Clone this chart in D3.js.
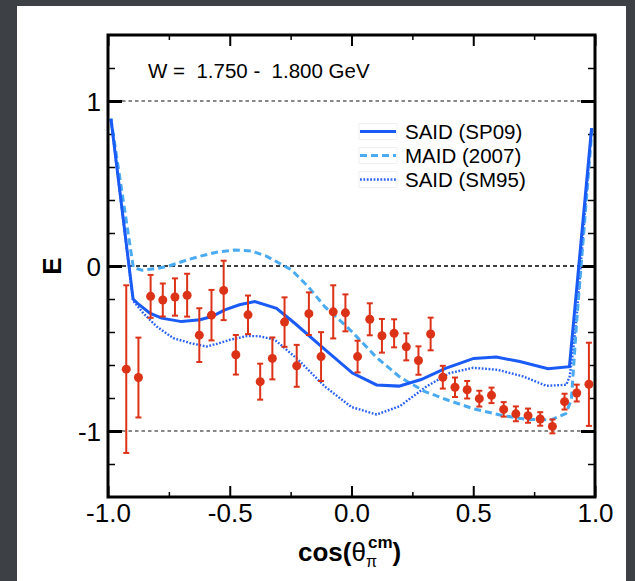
<!DOCTYPE html>
<html lang="en">
<head>
<meta charset="UTF-8">
<title>E vs cos theta</title>
<script src="https://d3js.org/d3.v7.min.js"></script>
<style>
  body { margin:0; background:#3d4044; }
  text { font-family:"Liberation Sans", Arial, Helvetica, sans-serif; }
  .axis path { display:none; }
  .axis line { stroke:#000; }
  .axis text { font-size:26px; fill:#000; }
</style>
</head>
<body>
<script>
// measured points (cos theta bins, E, error)
var cosBins = [-0.925,-0.875,-0.825,-0.775,-0.725,-0.675,-0.625,-0.575,-0.525,-0.475,
               -0.425,-0.375,-0.325,-0.275,-0.225,-0.175,-0.125,-0.075,-0.025,0.025,
               0.075,0.125,0.175,0.225,0.275,0.325,0.375,0.425,0.475,0.525,
               0.575,0.625,0.675,0.725,0.775,0.825,0.875,0.925,0.975];
var eValues = [-0.625,-0.676,-0.184,-0.206,-0.188,-0.177,-0.419,-0.298,-0.148,-0.538,
               -0.296,-0.701,-0.560,-0.340,-0.605,-0.289,-0.549,-0.278,-0.284,-0.549,
               -0.323,-0.423,-0.408,-0.490,-0.573,-0.412,-0.674,-0.735,-0.750,-0.804,
               -0.784,-0.869,-0.896,-0.907,-0.927,-0.972,-0.822,-0.770,-0.717];
var eErrors = [0.508,0.242,0.130,0.100,0.113,0.130,0.163,0.153,0.180,0.120,
               0.117,0.109,0.127,0.150,0.127,0.129,0.148,0.161,0.112,0.096,
               0.097,0.102,0.085,0.082,0.086,0.099,0.069,0.059,0.053,0.048,
               0.047,0.044,0.045,0.043,0.041,0.042,0.048,0.051,0.252];

// model curves: [cos, E]
var said09 = [[-0.988,0.893],[-0.897,-0.200],[-0.880,-0.225],[-0.828,-0.286],[-0.780,-0.316],
              [-0.698,-0.337],[-0.622,-0.326],[-0.574,-0.306],[-0.520,-0.266],[-0.460,-0.235],
              [-0.397,-0.216],[-0.308,-0.256],[-0.233,-0.347],[-0.123,-0.488],[0.004,-0.649],
              [0.103,-0.721],[0.195,-0.728],[0.286,-0.688],[0.386,-0.620],[0.502,-0.560],
              [0.595,-0.552],[0.691,-0.579],[0.807,-0.623],[0.895,-0.610],[0.986,0.835]];
var maid07 = [[-0.988,0.893],[-0.896,-0.010],[-0.860,-0.025],[-0.800,-0.015],[-0.750,0.000],
              [-0.677,0.036],[-0.612,0.063],[-0.550,0.085],[-0.480,0.097],[-0.410,0.090],
              [-0.350,0.060],[-0.300,0.020],[-0.246,-0.024],[-0.178,-0.125],[-0.110,-0.246],
              [-0.040,-0.340],[0.003,-0.400],[0.100,-0.550],[0.200,-0.675],[0.300,-0.760],
              [0.400,-0.815],[0.500,-0.865],[0.620,-0.906],[0.720,-0.930],[0.820,-0.932],
              [0.880,-0.895],[0.903,-0.810],[0.916,-0.528],[0.925,-0.330],[0.988,0.835]];
var said95 = [[-0.988,0.890],[-0.897,-0.210],[-0.855,-0.286],[-0.800,-0.367],[-0.732,-0.437],
              [-0.663,-0.467],[-0.595,-0.488],[-0.550,-0.470],[-0.499,-0.447],[-0.430,-0.425],
              [-0.380,-0.425],[-0.315,-0.447],[-0.219,-0.568],[-0.110,-0.730],[0.000,-0.855],
              [0.103,-0.900],[0.198,-0.850],[0.308,-0.730],[0.403,-0.649],[0.500,-0.617],
              [0.600,-0.629],[0.704,-0.669],[0.800,-0.726],[0.882,-0.720],[0.896,-0.669],
              [0.909,-0.528],[0.925,-0.300],[0.986,0.835]];

var legendNames = ["SAID (SP09)", "MAID (2007)", "SAID (SM95)"];
var xMajor = [-1, -0.5, 0, 0.5, 1];
var xMinor = [-0.75, -0.25, 0.25, 0.75];
var yMajor = [-1, 0, 1];
var yMinor = [-1.2, -0.8, -0.6, -0.4, -0.2, 0.2, 0.4, 0.6, 0.8, 1.2];

var width = 635, height = 581;
var pLeft = 108, pRight = 595, pTop = 35, pBottom = 497;

var svg = d3.select("body").append("svg")
            .attr("width", width).attr("height", height);

svg.append("rect").attr("width", width).attr("height", height).attr("fill", "#3d4044");
svg.append("rect").attr("x", 17).attr("y", 6).attr("width", 609).attr("height", 580).attr("fill", "#fff");

var x = d3.scaleLinear().domain([-1, 1]).range([pLeft, pRight]);
var y = d3.scaleLinear().domain([-1.4, 1.4]).range([pBottom, pTop]);

// reference lines
svg.selectAll("line.ref").data(yMajor).enter().append("line")
   .attr("x1", pLeft + 14).attr("x2", pRight - 14)
   .attr("y1", function(d){ return y(d); }).attr("y2", function(d){ return y(d); })
   .attr("stroke", function(d){ return d == 0 ? "#000" : "#888"; })
   .attr("stroke-width", function(d){ return d == 0 ? 1.3 : 2; })
   .attr("stroke-dasharray", function(d){ return d == 0 ? "4,3" : "3.5,3"; });

// axes, ticks inward on all sides
var bx = svg.append("g").attr("class", "axis").attr("transform", "translate(0," + pBottom + ")")
            .call(d3.axisBottom(x).tickValues(xMajor).tickSize(-11).tickPadding(7)
                  .tickFormat(function(d){ return d.toFixed(1); }));
bx.selectAll("line").attr("stroke-width", 2);
svg.append("g").attr("class", "axis").attr("transform", "translate(0," + pBottom + ")")
   .call(d3.axisBottom(x).tickValues(xMinor).tickSize(-5).tickFormat(""))
   .selectAll("line").attr("stroke-width", 1.5);
svg.append("g").attr("class", "axis").attr("transform", "translate(0," + pTop + ")")
   .call(d3.axisTop(x).tickValues(xMajor).tickSize(-11).tickFormat(""))
   .selectAll("line").attr("stroke-width", 2);
svg.append("g").attr("class", "axis").attr("transform", "translate(0," + pTop + ")")
   .call(d3.axisTop(x).tickValues(xMinor).tickSize(-5).tickFormat(""))
   .selectAll("line").attr("stroke-width", 1.5);

var ly = svg.append("g").attr("class", "axis").attr("transform", "translate(" + pLeft + ",0)")
            .call(d3.axisLeft(y).tickValues(yMajor).tickSize(-14).tickPadding(7)
                  .tickFormat(function(d){ return String(d); }));
ly.selectAll("line").attr("stroke-width", 3);
ly.selectAll("text").attr("dy", "0.36em");
svg.append("g").attr("class", "axis").attr("transform", "translate(" + pLeft + ",0)")
   .call(d3.axisLeft(y).tickValues(yMinor).tickSize(-7).tickFormat(""))
   .selectAll("line").attr("stroke-width", 1.5);
svg.append("g").attr("class", "axis").attr("transform", "translate(" + pRight + ",0)")
   .call(d3.axisRight(y).tickValues(yMajor).tickSize(-14).tickFormat(""))
   .selectAll("line").attr("stroke-width", 3);
svg.append("g").attr("class", "axis").attr("transform", "translate(" + pRight + ",0)")
   .call(d3.axisRight(y).tickValues(yMinor).tickSize(-7).tickFormat(""))
   .selectAll("line").attr("stroke-width", 1.5);

// curves
var line = d3.line().x(function(d){ return x(d[0]); }).y(function(d){ return y(d[1]); });
var styles = [
  {data: said95, color: "#2a62f2", w: 2.4, dash: "1.8,1.6"},
  {data: maid07, color: "#4aaaf2", w: 3, dash: "7,4"},
  {data: said09, color: "#1a5af5", w: 3, dash: null}
];
styles.forEach(function(s){
  svg.append("path").attr("d", line(s.data)).attr("fill", "none")
     .attr("stroke", s.color).attr("stroke-width", s.w)
     .attr("stroke-dasharray", s.dash);
});

// data points with error bars
var red = "#dc3218";
var pts = svg.append("g");
cosBins.forEach(function(c, i){
  var cx = x(c), lo = y(eValues[i] - eErrors[i]), hi = y(eValues[i] + eErrors[i]);
  pts.append("line").attr("x1", cx).attr("x2", cx).attr("y1", lo).attr("y2", hi)
     .attr("stroke", red).attr("stroke-width", 2);
  [lo, hi].forEach(function(yy){
    pts.append("line").attr("x1", cx - 3).attr("x2", cx + 3).attr("y1", yy).attr("y2", yy)
       .attr("stroke", red).attr("stroke-width", 2);
  });
  pts.append("circle").attr("cx", cx).attr("cy", y(eValues[i])).attr("r", 4.5).attr("fill", red);
});

// frame
svg.append("rect").attr("x", pLeft).attr("y", pTop).attr("width", pRight - pLeft).attr("height", pBottom - pTop)
   .attr("fill", "none").attr("stroke", "#000").attr("stroke-width", 3);

// energy label
svg.append("text").attr("x", 148).attr("y", 78).style("white-space", "pre")
   .attr("font-size", 20.5).text("W =  1.750 -  1.800 GeV");

// legend
var leg = svg.append("g");
[said09, maid07, said95].forEach(function(d, i){
  var s = styles[2 - i], yy = 131.5 + i * 24;
  leg.append("rect").attr("x", 359).attr("y", yy - 8).attr("width", 38).attr("height", 16)
     .attr("fill", "none").attr("stroke", "#f0f0f0").attr("stroke-width", 1);
  leg.append("line").attr("x1", 360).attr("x2", 396).attr("y1", yy).attr("y2", yy)
     .attr("stroke", s.color).attr("stroke-width", s.w).attr("stroke-dasharray", s.dash);
  leg.append("text").attr("x", 405).attr("y", yy + 7).attr("font-size", 20.5).text(legendNames[i]);
});

// axis titles
svg.append("text").attr("transform", "translate(61,266) rotate(-90)")
   .attr("text-anchor", "middle").attr("font-size", 26).attr("font-weight", "bold").text("E");

var xt = svg.append("text").attr("x", 298).attr("y", 561).attr("font-size", 26);
xt.append("tspan").attr("font-weight", "bold").text("cos(");
xt.append("tspan").text("θ");
xt.append("tspan").attr("font-size", 16).attr("dy", 6).text("π");
xt.append("tspan").attr("font-size", 17).attr("font-weight", "bold").attr("dx", -9).attr("dy", -19).text("cm");
xt.append("tspan").attr("font-weight", "bold").attr("dy", 13).text(")");
</script>
</body>
</html>
